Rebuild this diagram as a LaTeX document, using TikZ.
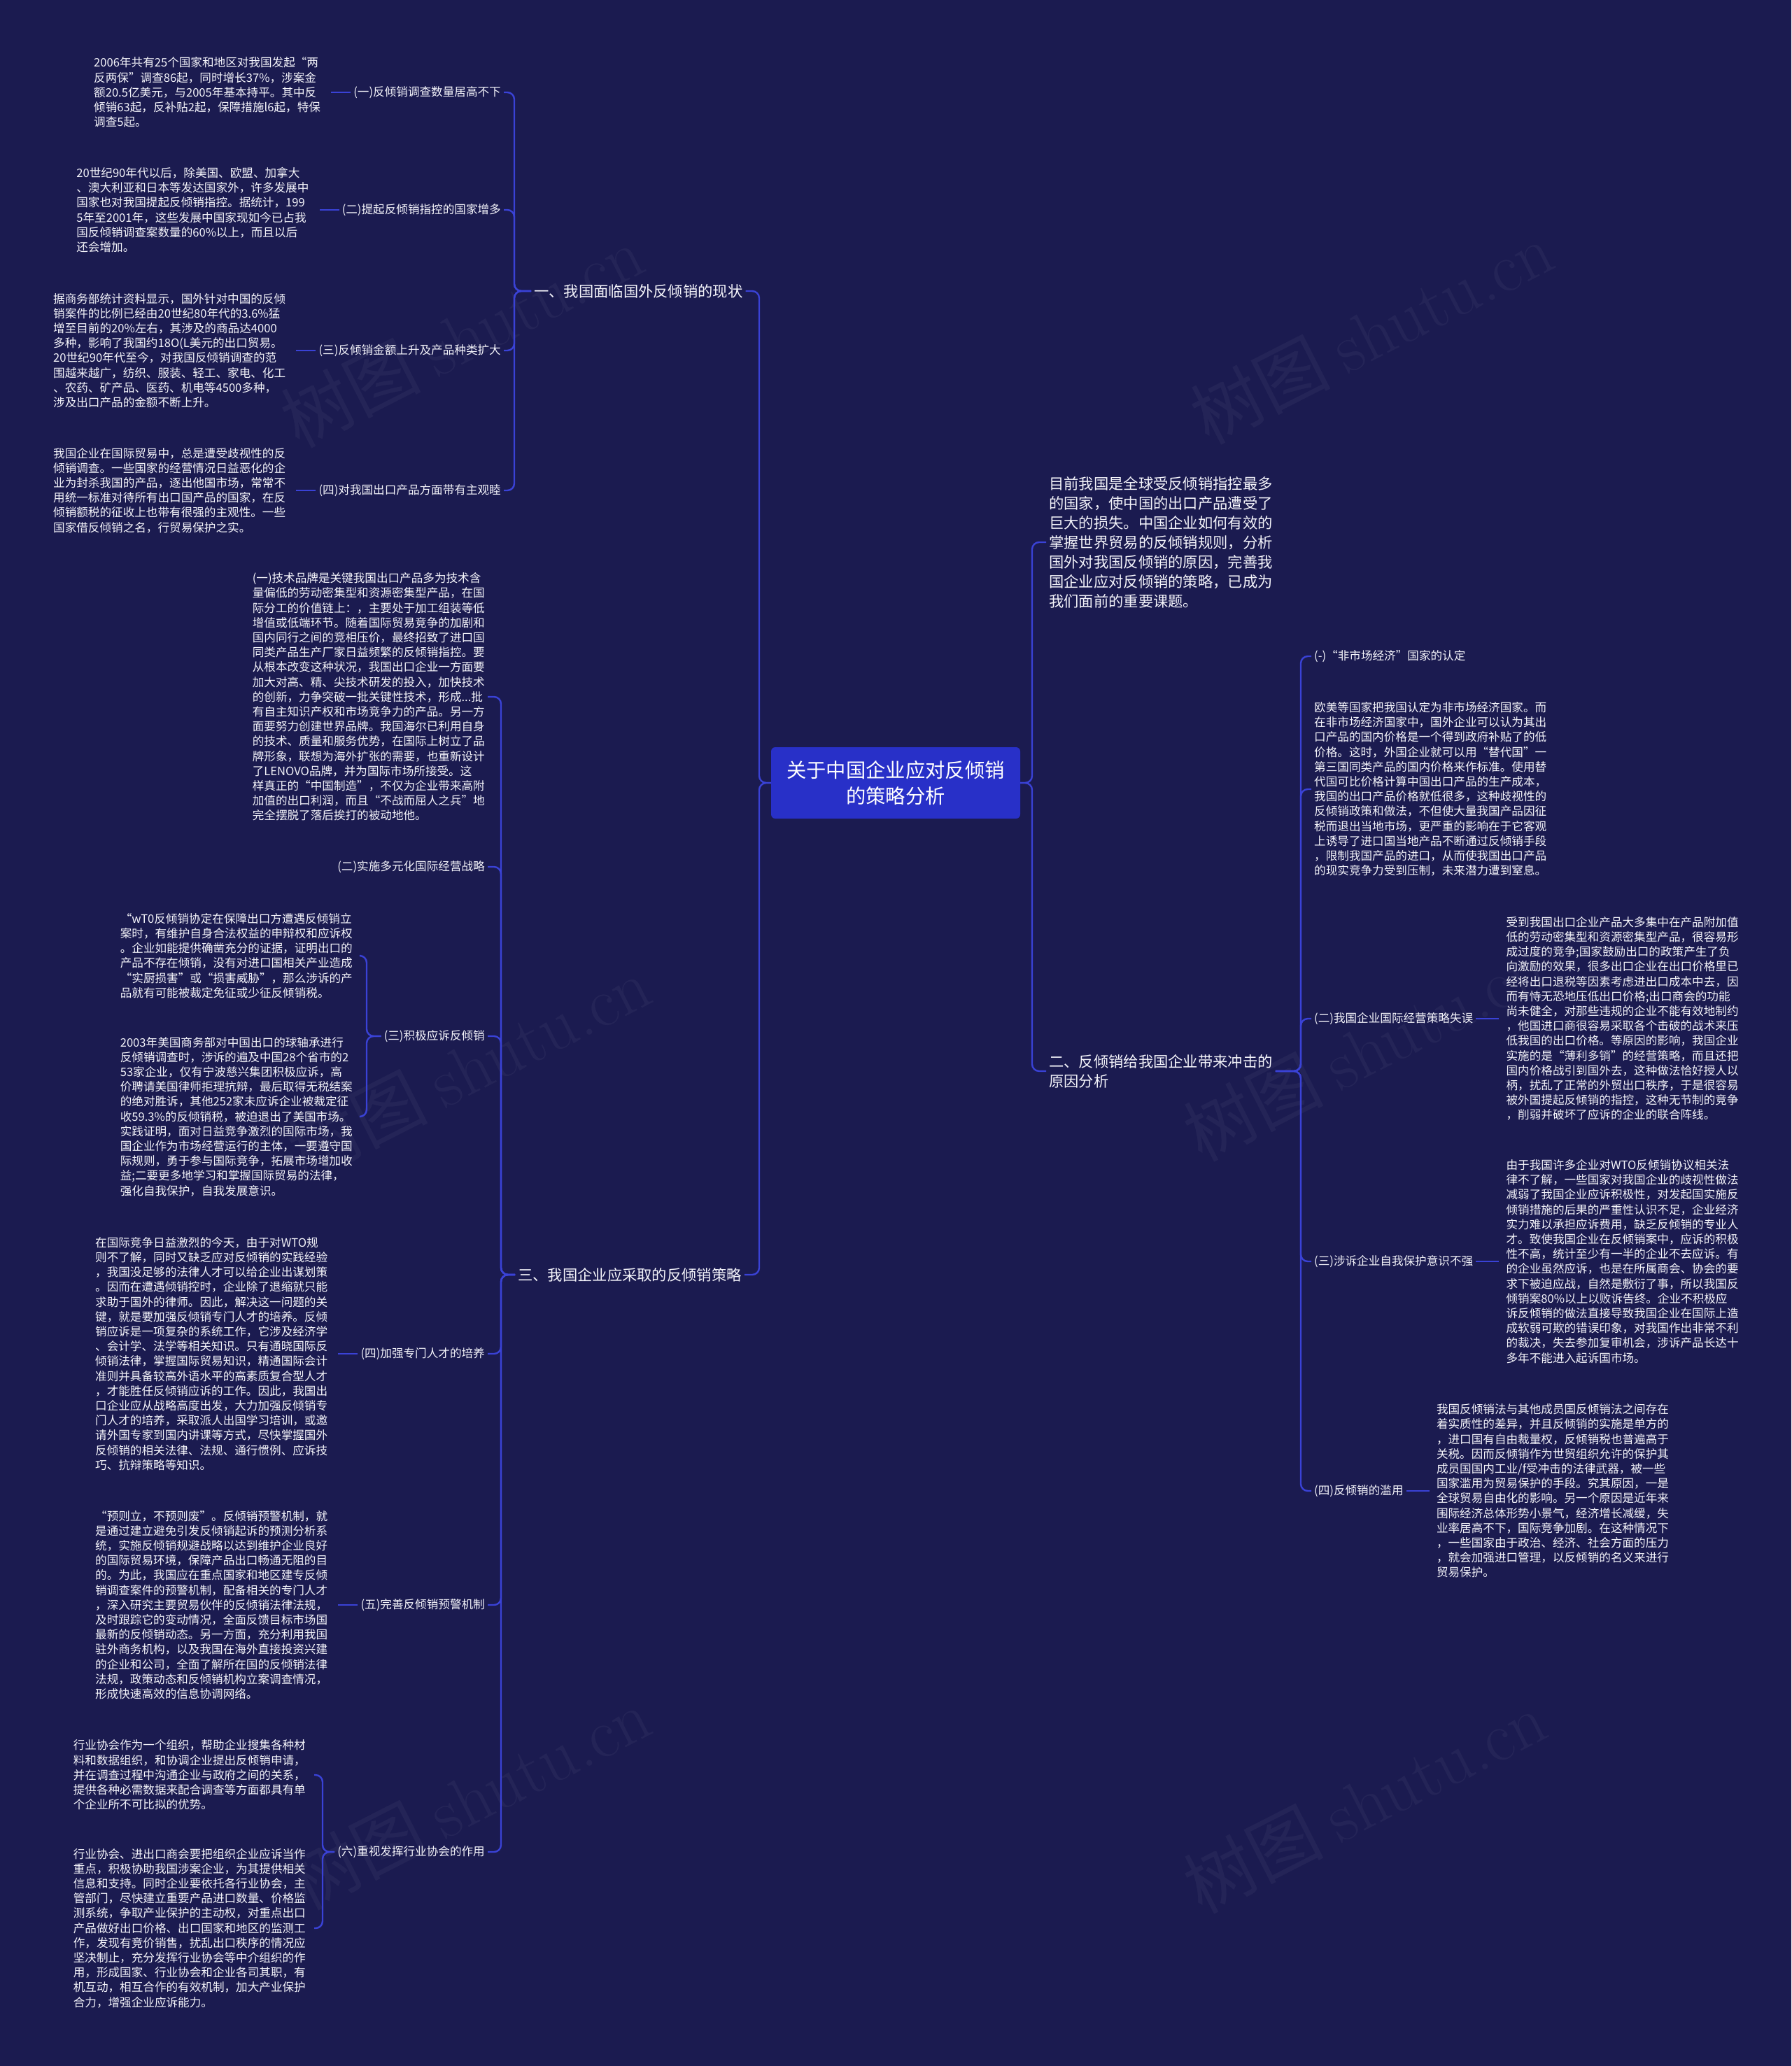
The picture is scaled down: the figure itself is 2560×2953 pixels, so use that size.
\documentclass[tikz,border=0pt]{standalone}
\usepackage{fontspec}
\newfontfamily\cjk{Noto Sans CJK SC}
\usetikzlibrary{calc}
\definecolor{bgc}{RGB}{27,27,80}
\definecolor{lnc}{RGB}{58,66,214}
\definecolor{boxc}{RGB}{40,48,200}
\definecolor{txtc}{RGB}{244,244,250}
\tikzset{
  leaf/.style={font=\cjk\fontsize{16.6pt}{21.2pt}\selectfont, text=txtc, align=left, inner xsep=4pt, inner ysep=3pt},
  lbl/.style={font=\cjk\fontsize{16.6pt}{21.2pt}\selectfont, text=txtc, inner xsep=4pt, inner ysep=3pt},
  big/.style={font=\cjk\fontsize{21.3pt}{28pt}\selectfont, text=txtc, align=left, inner xsep=4pt, inner ysep=3pt},
  rootbox/.style={font=\cjk\fontsize{28.3pt}{37.7pt}\selectfont, text=white, align=center, fill=boxc, rounded corners=6pt, minimum width=356pt, minimum height=102pt},
  conn/.style={draw=lnc, line width=2.4pt, rounded corners=10pt},
  wm/.style={font=\cjk\fontsize{100pt}{100pt}\selectfont, text=white, opacity=0.045, rotate=27}
}
\begin{document}
\begin{tikzpicture}[x=1pt,y=-1pt]
\fill[bgc] (0,0) rectangle (2560,2953);
\useasboundingbox (0,0) rectangle (2560,2953);

% watermarks
\node[wm] (wm1) at (660,480) {树图 {\normalfont shutu.cn}};
\node[wm] (wm2) at (1960,475) {树图 {\normalfont shutu.cn}};
\node[wm] (wm3) at (670,1525) {树图 {\normalfont shutu.cn}};
\node[wm] (wm4) at (1950,1500) {树图 {\normalfont shutu.cn}};
\node[wm] (wm5) at (670,2570) {树图 {\normalfont shutu.cn}};
\node[wm] (wm6) at (1950,2575) {树图 {\normalfont shutu.cn}};

% trunk positions
\coordinate (tL) at (1085,0);
\coordinate (tR) at (1475,0);
\coordinate (tA) at (735,0);
\coordinate (tB) at (716,0);
\coordinate (tB2) at (524,0);
\coordinate (tB5) at (461,0);
\coordinate (tD) at (1859,0);

% root
\node[rootbox] (center) at (1280,1119) {关于中国企业应对反倾销\\的策略分析};

% level 1
\node[big, anchor=west] (A) at (759,416) {一、我国面临国外反倾销的现状};
\node[big, anchor=west] (B) at (736,1822) {三、我国企业应采取的反倾销策略};
\node[big, anchor=west] (C) at (1495,775) {目前我国是全球受反倾销指控最多\\的国家，使中国的出口产品遭受了\\巨大的损失。中国企业如何有效的\\掌握世界贸易的反倾销规则，分析\\国外对我国反倾销的原因，完善我\\国企业应对反倾销的策略，已成为\\我们面前的重要课题。};
\node[big, anchor=west] (D) at (1495,1531) {二、反倾销给我国企业带来冲击的\\原因分析};

\draw[conn] (center.west) -- (center.west -| tL) |- (A.east);
\draw[conn] (center.west) -- (center.west -| tL) |- (B.east);
\draw[conn] (center.east) -- (center.east -| tR) |- (C.west);
\draw[conn] (center.east) -- (center.east -| tR) |- (D.west);

% ---- branch A ----
\node[lbl, anchor=east] (A1) at (720,132) {(一)反倾销调查数量居高不下};
\node[lbl, anchor=east] (A2) at (720,300) {(二)提起反倾销指控的国家增多};
\node[lbl, anchor=east] (A3) at (720,501) {(三)反倾销金额上升及产品种类扩大};
\node[lbl, anchor=east] (A4) at (720,701) {(四)对我国出口产品方面带有主观睦};
\foreach \n in {A1,A2,A3,A4}
  \draw[conn] (A.west) -- (A.west -| tA) |- (\n.east);

\node[leaf, anchor=east] (A1t) at ([xshift=-39pt]A1.west) {2006年共有25个国家和地区对我国发起“两\\反两保”调查86起，同时增长37\%，涉案金\\额20.5亿美元，与2005年基本持平。其中反\\倾销63起，反补贴2起，保障措施l6起，特保\\调查5起。};
\node[leaf, anchor=east] (A2t) at ([xshift=-39pt]A2.west) {20世纪90年代以后，除美国、欧盟、加拿大\\、澳大利亚和日本等发达国家外，许多发展中\\国家也对我国提起反倾销指控。据统计，199\\5年至2001年，这些发展中国家现如今已占我\\国反倾销调查案数量的60\%以上，而且以后\\还会增加。};
\node[leaf, anchor=east] (A3t) at ([xshift=-39pt]A3.west) {据商务部统计资料显示，国外针对中国的反倾\\销案件的比例已经由20世纪80年代的3.6\%猛\\增至目前的20\%左右，其涉及的商品达4000\\多种，影响了我国约18O(L美元的出口贸易。\\20世纪90年代至今，对我国反倾销调查的范\\围越来越广，纺织、服装、轻工、家电、化工\\、农药、矿产品、医药、机电等4500多种，\\涉及出口产品的金额不断上升。};
\node[leaf, anchor=east] (A4t) at ([xshift=-39pt]A4.west) {我国企业在国际贸易中，总是遭受歧视性的反\\倾销调查。一些国家的经营情况日益恶化的企\\业为封杀我国的产品，逐出他国市场，常常不\\用统一标准对待所有出口国产品的国家，在反\\倾销额税的征收上也带有很强的主观性。一些\\国家借反倾销之名，行贸易保护之实。};
\foreach \n in {A1,A2,A3,A4}
  \draw[conn] (\n.west) -- ([xshift=11pt]\n t.east);

% ---- branch B ----
\node[leaf, anchor=east] (B0) at (697,996) {(一)技术品牌是关键我国出口产品多为技术含\\量偏低的劳动密集型和资源密集型产品，在国\\际分工的价值链上：，主要处于加工组装等低\\增值或低端环节。随着国际贸易竞争的加剧和\\国内同行之间的竞相压价，最终招致了进口国\\同类产品生产厂家日益频繁的反倾销指控。要\\从根本改变这种状况，我国出口企业一方面要\\加大对高、精、尖技术研发的投入，加快技术\\的创新，力争突破一批关键性技术，形成...批\\有自主知识产权和市场竞争力的产品。另一方\\面要努力创建世界品牌。我国海尔已利用自身\\的技术、质量和服务优势，在国际上树立了品\\牌形象，联想为海外扩张的需要，也重新设计\\了LENOVO品牌，并为国际市场所接受。这\\样真正的“中国制造”，不仅为企业带来高附\\加值的出口利润，而且“不战而屈人之兵”地\\完全摆脱了落后挨打的被动地他。};
\node[lbl, anchor=east] (B1) at (697,1239) {(二)实施多元化国际经营战略};
\node[lbl, anchor=east] (B2) at (697,1481) {(三)积极应诉反倾销};
\node[lbl, anchor=east] (B3) at (697,1935) {(四)加强专门人才的培养};
\node[lbl, anchor=east] (B4) at (697,2294) {(五)完善反倾销预警机制};
\node[lbl, anchor=east] (B5) at (697,2647) {(六)重视发挥行业协会的作用};
\foreach \n in {B0,B1,B2,B3,B4,B5}
  \draw[conn] (B.west) -- (B.west -| tB) |- (\n.east);

% B2 children
\node[leaf, anchor=east] (B2a) at (508,1366) {“wT0反倾销协定在保障出口方遭遇反倾销立\\案时，有维护自身合法权益的申辩权和应诉权\\。企业如能提供确凿充分的证据，证明出口的\\产品不存在倾销，没有对进口国相关产业造成\\“实厨损害”或“损害威胁”，那么涉诉的产\\品就有可能被裁定免征或少征反倾销税。};
\node[leaf, anchor=east] (B2b) at (508,1596) {2003年美国商务部对中国出口的球轴承进行\\反倾销调查时，涉诉的遍及中国28个省市的2\\53家企业，仅有宁波慈兴集团积极应诉，高\\价聘请美国律师拒理抗辩，最后取得无税结案\\的绝对胜诉，其他252家未应诉企业被裁定征\\收59.3\%的反倾销税，被迫退出了美国市场。\\实践证明，面对日益竞争激烈的国际市场，我\\国企业作为市场经营运行的主体，一要遵守国\\际规则，勇于参与国际竞争，拓展市场增加收\\益;二要更多地学习和掌握国际贸易的法律，\\强化自我保护，自我发展意识。};
\draw[conn] (B2.west) -- (B2.west -| tB2) |- ([xshift=8pt]B2a.east);
\draw[conn] (B2.west) -- (B2.west -| tB2) |- ([xshift=8pt]B2b.east);

% B3, B4 children
\node[leaf, anchor=east] (B3t) at ([xshift=-39pt]B3.west) {在国际竞争日益激烈的今天，由于对WTO规\\则不了解，同时又缺乏应对反倾销的实践经验\\，我国没足够的法律人才可以给企业出谋划策\\。因而在遭遇倾销控时，企业除了退缩就只能\\求助于国外的律师。因此，解决这一问题的关\\键，就是要加强反倾销专门人才的培养。反倾\\销应诉是一项复杂的系统工作，它涉及经济学\\、会计学、法学等相关知识。只有通晓国际反\\倾销法律，掌握国际贸易知识，精通国际会计\\准则并具备较高外语水平的高素质复合型人才\\，才能胜任反倾销应诉的工作。因此，我国出\\口企业应从战略高度出发，大力加强反倾销专\\门人才的培养，采取派人出国学习培训，或邀\\请外国专家到国内讲课等方式，尽快掌握国外\\反倾销的相关法律、法规、通行惯例、应诉技\\巧、抗辩策略等知识。};
\node[leaf, anchor=east] (B4t) at ([xshift=-39pt]B4.west) {“预则立，不预则废”。反倾销预警机制，就\\是通过建立避免引发反倾销起诉的预测分析系\\统，实施反倾销规避战略以达到维护企业良好\\的国际贸易环境，保障产品出口畅通无阻的目\\的。为此，我国应在重点国家和地区建专反倾\\销调查案件的预警机制，配备相关的专门人才\\，深入研究主要贸易伙伴的反倾销法律法规，\\及时跟踪它的变动情况，全面反馈目标市场国\\最新的反倾销动态。另一方面，充分利用我国\\驻外商务机构，以及我国在海外直接投资兴建\\的企业和公司，全面了解所在国的反倾销法律\\法规，政策动态和反倾销机构立案调查情况，\\形成快速高效的信息协调网络。};
\draw[conn] (B3.west) -- ([xshift=11pt]B3t.east);
\draw[conn] (B4.west) -- ([xshift=11pt]B4t.east);

% B5 children
\node[leaf, anchor=east] (B5a) at (441,2537) {行业协会作为一个组织，帮助企业搜集各种材\\料和数据组织，和协调企业提出反倾销申请，\\并在调查过程中沟通企业与政府之间的关系，\\提供各种必需数据来配合调查等方面都具有单\\个企业所不可比拟的优势。};
\node[leaf, anchor=east] (B5b) at (441,2756) {行业协会、进出口商会要把组织企业应诉当作\\重点，积极协助我国涉案企业，为其提供相关\\信息和支持。同时企业要依托各行业协会，主\\管部门，尽快建立重要产品进口数量、价格监\\测系统，争取产业保护的主动权，对重点出口\\产品做好出口价格、出口国家和地区的监测工\\作，发现有竞价销售，扰乱出口秩序的情况应\\坚决制止，充分发挥行业协会等中介组织的作\\用，形成国家、行业协会和企业各司其职，有\\机互动，相互合作的有效机制，加大产业保护\\合力，增强企业应诉能力。};
\draw[conn] (B5.west) -- (B5.west -| tB5) |- ([xshift=8pt]B5a.east);
\draw[conn] (B5.west) -- (B5.west -| tB5) |- ([xshift=8pt]B5b.east);

% ---- branch D ----
\node[lbl, anchor=west] (R1) at (1874,938) {(-)“非市场经济”国家的认定};
\node[leaf, anchor=west] (R1t) at (1874,1128) {欧美等国家把我国认定为非市场经济国家。而\\在非市场经济国家中，国外企业可以认为其出\\口产品的国内价格是一个得到政府补贴了的低\\价格。这时，外国企业就可以用“替代国”一\\第三国同类产品的国内价格来作标准。使用替\\代国可比价格计算中国出口产品的生产成本，\\我国的出口产品价格就低很多，这种歧视性的\\反倾销政策和做法，不但使大量我国产品因征\\税而退出当地市场，更严重的影响在于它客观\\上诱导了进口国当地产品不断通过反倾销手段\\，限制我国产品的进口，从而使我国出口产品\\的现实竞争力受到压制，未来潜力遭到窒息。};
\node[lbl, anchor=west] (R2) at (1874,1456) {(二)我国企业国际经营策略失误};
\node[lbl, anchor=west] (R3) at (1874,1803) {(三)涉诉企业自我保护意识不强};
\node[lbl, anchor=west] (R4) at (1874,2131) {(四)反倾销的滥用};
\foreach \n in {R1,R1t,R2,R3,R4}
  \draw[conn] (D.east) -- (D.east -| tD) |- (\n.west);

\node[leaf, anchor=west] (R2t) at ([xshift=39pt]R2.east) {受到我国出口企业产品大多集中在产品附加值\\低的劳动密集型和资源密集型产品，很容易形\\成过度的竞争;国家鼓励出口的政策产生了负\\向激励的效果，很多出口企业在出口价格里已\\经将出口退税等因素考虑进出口成本中去，因\\而有恃无恐地压低出口价格;出口商会的功能\\尚未健全，对那些违规的企业不能有效地制约\\，他国进口商很容易采取各个击破的战术来压\\低我国的出口价格。等原因的影响，我国企业\\实施的是“薄利多销”的经营策略，而且还把\\国内价格战引到国外去，这种做法恰好授人以\\柄，扰乱了正常的外贸出口秩序，于是很容易\\被外国提起反倾销的指控，这种无节制的竞争\\，削弱并破坏了应诉的企业的联合阵线。};
\node[leaf, anchor=west] (R3t) at ([xshift=39pt]R3.east) {由于我国许多企业对WTO反倾销协议相关法\\律不了解，一些国家对我国企业的歧视性做法\\减弱了我国企业应诉积极性，对发起国实施反\\倾销措施的后果的严重性认识不足，企业经济\\实力难以承担应诉费用，缺乏反倾销的专业人\\才。致使我国企业在反倾销案中，应诉的积极\\性不高，统计至少有一半的企业不去应诉。有\\的企业虽然应诉，也是在所属商会、协会的要\\求下被迫应战，自然是敷衍了事，所以我国反\\倾销案80\%以上以败诉告终。企业不积极应\\诉反倾销的做法直接导致我国企业在国际上造\\成软弱可欺的错误印象，对我国作出非常不利\\的裁决，失去参加复审机会，涉诉产品长达十\\多年不能进入起诉国市场。};
\node[leaf, anchor=west] (R4t) at ([xshift=39pt]R4.east) {我国反倾销法与其他成员国反倾销法之间存在\\着实质性的差异，并且反倾销的实施是单方的\\，进口国有自由裁量权，反倾销税也普遍高于\\关税。因而反倾销作为世贸组织允许的保护其\\成员国国内工业/f受冲击的法律武器，被一些\\国家滥用为贸易保护的手段。究其原因，一是\\全球贸易自由化的影响。另一个原因是近年来\\围际经济总体形势小景气，经济增长减缓，失\\业率居高不下，国际竞争加剧。在这种情况下\\，一些国家由于政治、经济、社会方面的压力\\，就会加强进口管理，以反倾销的名义来进行\\贸易保护。};
\foreach \n in {R2,R3,R4}
  \draw[conn] (\n.east) -- ([xshift=-6pt]\n t.west);
\end{tikzpicture}
\end{document}
